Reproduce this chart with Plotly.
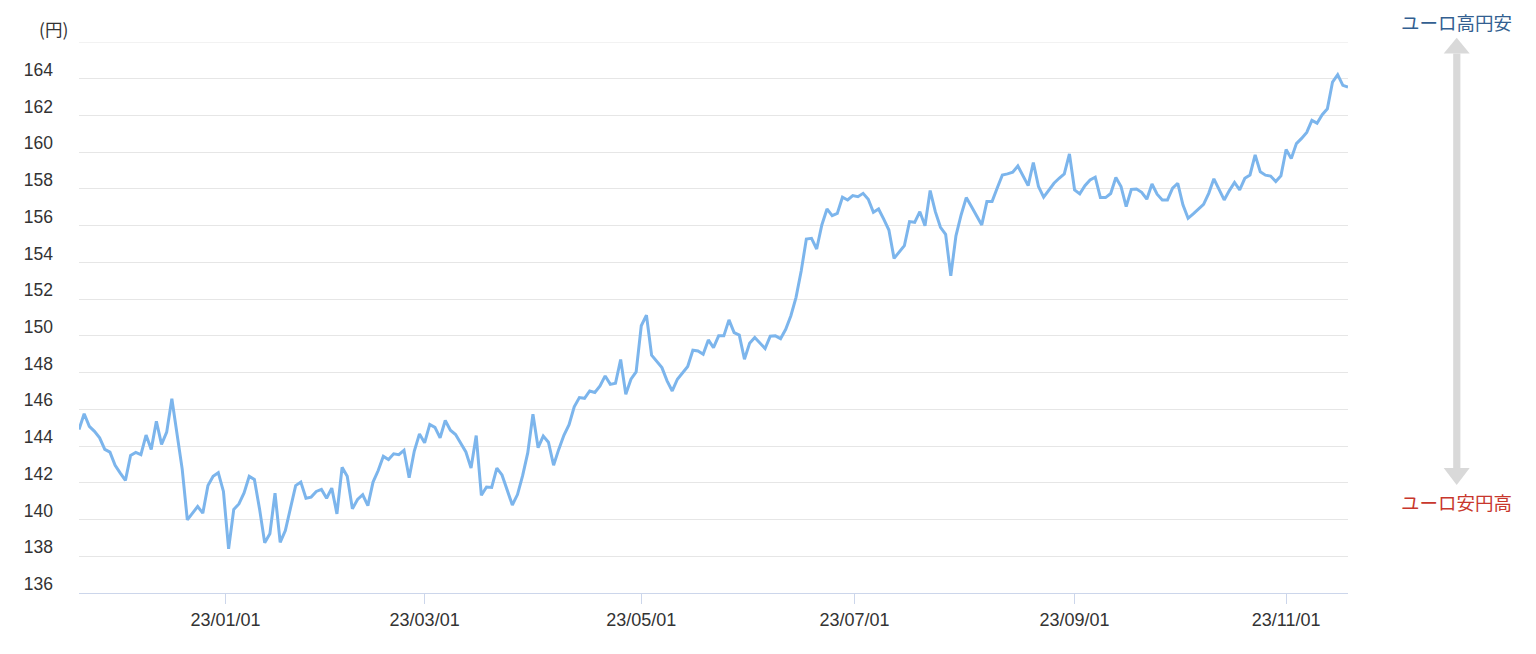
import numpy as np
import pandas as pd
import plotly.graph_objects as go

# ---- data -------------------------------------------------------------
START_DATE = "2022-11-21"
END_DATE = "2023-11-20"
JP_HOLIDAYS = ["2022-11-23", "2023-01-02", "2023-01-03", "2023-01-09", "2023-02-23",
               "2023-03-21", "2023-05-03", "2023-05-04", "2023-05-05", "2023-07-17",
               "2023-08-11", "2023-09-18", "2023-10-09", "2023-11-03"]

eurjpy = [
    144.9, 145.76, 145.07, 144.8, 144.45, 143.82, 143.67, 142.95, 142.53, 142.13,
    143.49, 143.65, 143.53, 144.6, 143.82, 145.35, 144.09, 144.76, 146.58, 144.58,
    142.76, 139.98, 140.36, 140.71, 140.35, 141.85, 142.36, 142.55, 141.53, 138.4,
    140.55, 140.85, 141.45, 142.35, 142.18, 140.58, 138.73, 139.22, 141.44, 138.76,
    139.4, 140.67, 141.85, 142.04, 141.16, 141.22, 141.53, 141.64, 141.16, 141.71,
    140.31, 142.84, 142.36, 140.58, 141.09, 141.35, 140.76, 142.04, 142.67, 143.44,
    143.27, 143.58, 143.53, 143.77, 142.27, 143.73, 144.66, 144.18, 145.18, 145.02,
    144.45, 145.39, 144.86, 144.63, 144.18, 143.68, 142.8, 144.57, 141.32, 141.77,
    141.75, 142.8, 142.43, 141.64, 140.79, 141.36, 142.39, 143.64, 145.73, 143.91,
    144.54, 144.21, 142.96, 143.82, 144.59, 145.16, 146.14, 146.64, 146.6, 147.0,
    146.92, 147.27, 147.82, 147.36, 147.42, 148.71, 146.82, 147.64, 148.04, 150.55,
    151.13, 148.95, 148.64, 148.27, 147.55, 147.0, 147.64, 148.0, 148.33, 149.22,
    149.18, 149.0, 149.78, 149.36, 150.0, 150.0, 150.87, 150.18, 150.04, 148.73,
    149.6, 149.91, 149.6, 149.31, 149.98, 150.0, 149.85, 150.36, 151.1, 152.1,
    153.53, 155.27, 155.31, 154.73, 156.04, 156.91, 156.55, 156.67, 157.55, 157.4,
    157.64, 157.58, 157.76, 157.44, 156.73, 156.91, 156.36, 155.76, 154.22, 154.55,
    154.91, 156.22, 156.18, 156.76, 156.0, 157.91, 156.76, 155.91, 155.53, 153.27,
    155.45, 156.58, 157.53, 157.04, 156.55, 156.04, 157.31, 157.31, 158.05, 158.76,
    158.82, 158.91, 159.25, 158.73, 158.18, 159.44, 158.13, 157.55, 157.91, 158.31,
    158.58, 158.82, 159.91, 157.95, 157.73, 158.18, 158.49, 158.64, 157.53, 157.53,
    157.75, 158.62, 158.13, 157.04, 157.98, 158.0, 157.82, 157.44, 158.27, 157.71,
    157.4, 157.4, 158.04, 158.31, 157.13, 156.4, 156.64, 156.89, 157.16, 157.76,
    158.55, 157.98, 157.4, 157.91, 158.35, 157.95, 158.58, 158.76, 159.85, 158.93,
    158.75, 158.7, 158.4, 158.72, 160.15, 159.65, 160.47, 160.75, 161.08, 161.73,
    161.58, 162.04, 162.36, 163.82, 164.22, 163.64, 163.55,
]

TICK_DATES = ["2023-01-01", "2023-03-01", "2023-05-01", "2023-07-01", "2023-09-01", "2023-11-01"]
Y_MIN, Y_MAX, Y_STEP = 136, 166, 2
Y_TICKS = list(range(Y_MIN, Y_MAX + 1, Y_STEP))
Y_UNIT = "(円)"
LABEL_UP = "ユーロ高円安"
LABEL_DOWN = "ユーロ安円高"

# ---- ordinal (business-day) x axis -------------------------------------
dates = pd.bdate_range(START_DATE, END_DATE, freq="C", holidays=JP_HOLIDAYS)
n = min(len(dates), len(eurjpy))
dates = dates[:n]
vals = eurjpy[:n]
idx = np.arange(n)
date_num = dates.values.astype("datetime64[D]").astype(np.int64)
tick_dt = pd.to_datetime(TICK_DATES)
tick_num = tick_dt.values.astype("datetime64[D]").astype(np.int64)
tick_pos = np.interp(tick_num, date_num, idx)
tick_txt = [d.strftime("%y/%m/%d") for d in tick_dt]

# ---- layout geometry ----------------------------------------------------
W, H = 1536, 654
ML, MR, MT, MB = 79, 188, 42, 61
PW, PH = W - ML - MR, H - MT - MB


def px(xp):
    return (xp - ML) / PW


def py(yp):
    return (H - MB - yp) / PH


FONT = "Liberation Sans, Arial, sans-serif"
CJK = "Noto Sans CJK JP, sans-serif"

fig = go.Figure()
fig.add_trace(go.Scatter(x=idx, y=vals, mode="lines",
                         line=dict(color="#7cb5ec", width=3),
                         hoverinfo="skip", showlegend=False))

shapes = [
    # top grid line (plotly omits the one on the plot edge)
    dict(type="line", xref="paper", yref="y", x0=0, x1=1, y0=Y_MAX, y1=Y_MAX,
         line=dict(color="#e6e6e6", width=1), layer="below"),
    dict(type="rect", xref="paper", yref="paper",
         x0=px(1453.2), x1=px(1460.4), y0=py(468), y1=py(53.5),
         fillcolor="#d9d9d9", line=dict(width=0), layer="above"),
    dict(type="path", xref="paper", yref="paper",
         path=f"M {px(1443.7)} {py(53.5)} L {px(1469.7)} {py(53.5)} L {px(1456.7)} {py(37.7)} Z",
         fillcolor="#d9d9d9", line=dict(width=0)),
    dict(type="path", xref="paper", yref="paper",
         path=f"M {px(1443.7)} {py(468)} L {px(1469.7)} {py(468)} L {px(1456.7)} {py(485)} Z",
         fillcolor="#d9d9d9", line=dict(width=0)),
]

annotations = [
    dict(text=Y_UNIT, xref="paper", yref="paper", x=px(69.5), y=py(28),
         xanchor="right", yanchor="middle", showarrow=False,
         font=dict(family=CJK, size=17.5, color="#333333")),
    dict(text=LABEL_UP, xref="paper", yref="paper", x=px(1456.7), y=py(22),
         xanchor="center", yanchor="middle", showarrow=False,
         font=dict(family=CJK, size=18.5, color="#335f91")),
    dict(text=LABEL_DOWN, xref="paper", yref="paper", x=px(1456.7), y=py(501.5),
         xanchor="center", yanchor="middle", showarrow=False,
         font=dict(family=CJK, size=18.5, color="#c8372d")),
]

fig.update_layout(
    width=W, height=H,
    margin=dict(l=ML, r=MR, t=MT, b=MB, pad=0),
    paper_bgcolor="white", plot_bgcolor="white",
    shapes=shapes, annotations=annotations,
    xaxis=dict(range=[0, n - 1], tickmode="array", tickvals=tick_pos, ticktext=tick_txt,
               showgrid=False, zeroline=False, showline=True, linecolor="#ccd6eb", linewidth=1,
               ticks="outside", ticklen=10, tickcolor="#ccd6eb", tickwidth=1,
               tickfont=dict(family=FONT, size=18, color="#333333")),
    yaxis=dict(range=[Y_MIN, Y_MAX], tickmode="array", tickvals=Y_TICKS,
               ticktext=[str(v) if v < Y_MAX else "" for v in Y_TICKS],
               showgrid=True, gridcolor="#e6e6e6", gridwidth=1, zeroline=False,
               showline=False, ticks="", ticklabelshift=-9, ticklabelstandoff=25,
               tickfont=dict(family=FONT, size=17.5, color="#333333")),
)

fig.write_html("out.html", config={"displayModeBar": False},
               post_script="document.body.style.margin='0';document.body.style.overflow='hidden';")
